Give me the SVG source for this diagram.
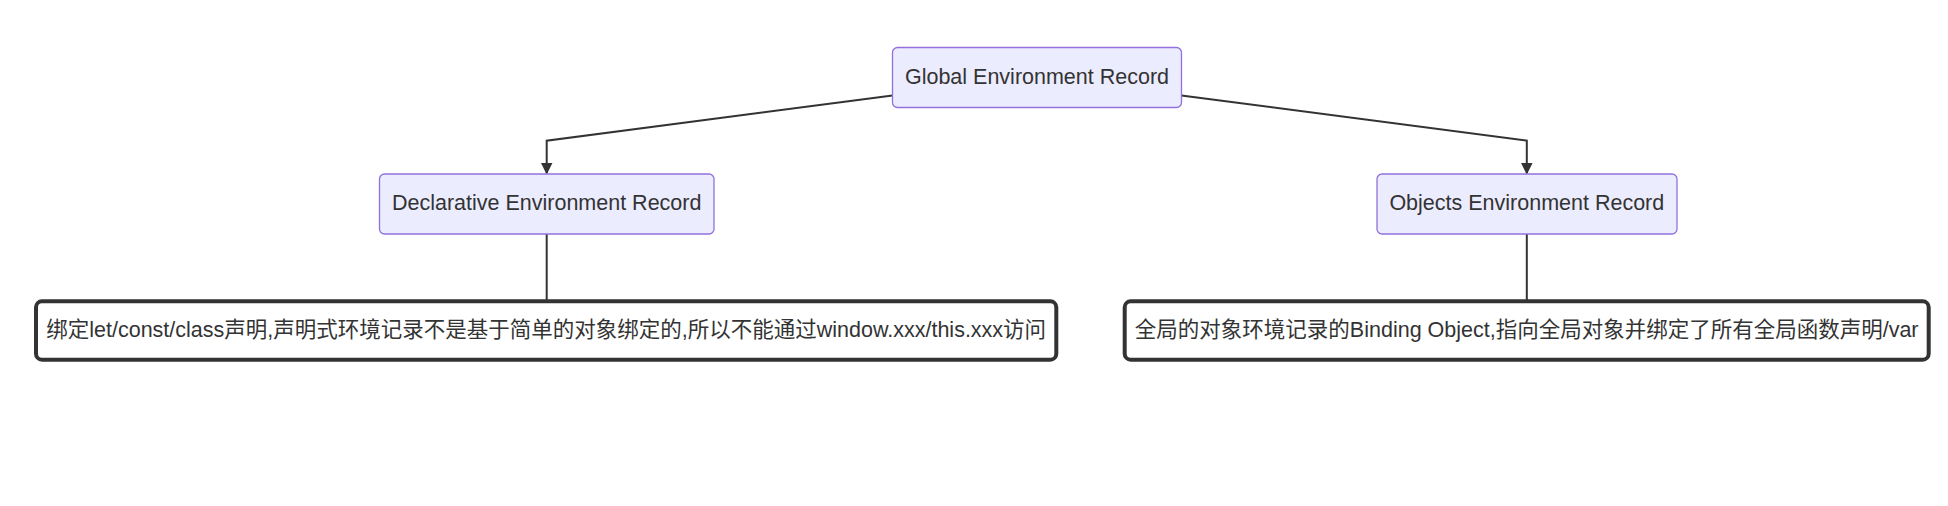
<svg xmlns="http://www.w3.org/2000/svg" width="1948" height="506" viewBox="0 0 1948 506">
<style>
.bg{fill:#ffffff}
.node rect{fill:#ECECFF;stroke:#9370DB;stroke-width:1.3}
.note rect{fill:#ffffff;stroke:#333333;stroke-width:4}
text{font-family:"Liberation Sans","Noto Sans CJK SC",Arial,sans-serif;font-size:21.5px;fill:#333333;text-anchor:middle;dominant-baseline:central}
.edge{fill:none;stroke:#333333;stroke-width:2}
</style>
<defs>
<marker id="arrow" viewBox="0 0 12 12" refX="11" refY="6" markerWidth="12" markerHeight="12" markerUnits="userSpaceOnUse" orient="auto">
<path d="M0,0 L12,6 L0,12 z" fill="#333333"/>
</marker>
</defs>
<rect class="bg" x="0" y="0" width="1948" height="506"/>
<g id="connectors">
<path class="edge" d="M892.5,95.5 L546.7,140.7 L546.7,173.5" marker-end="url(#arrow)"/>
<path class="edge" d="M1181.5,95.5 L1526.8,140.7 L1526.8,173.5" marker-end="url(#arrow)"/>
<path class="edge" d="M546.7,234 L546.7,300"/>
<path class="edge" d="M1526.8,234 L1526.8,300"/>
</g>
<g id="global" class="node">
<rect x="892.5" y="47.5" width="289" height="60" rx="5"/>
<text x="1037" y="76.5">Global Environment Record</text>
</g>
<g id="declarative" class="node">
<rect x="379.5" y="174" width="334.5" height="60" rx="5"/>
<text x="546.7" y="203">Declarative Environment Record</text>
</g>
<g id="objects" class="node">
<rect x="1377" y="174" width="300" height="60" rx="5"/>
<text x="1526.8" y="203">Objects Environment Record</text>
</g>
<g id="declarative-note" class="note">
<rect x="36" y="301.3" width="1020.3" height="58.4" rx="6"/>
<text x="546.2" y="329.5">绑定let/const/class声明,声明式环境记录不是基于简单的对象绑定的,所以不能通过window.xxx/this.xxx访问</text>
</g>
<g id="objects-note" class="note">
<rect x="1124.7" y="301.3" width="804" height="58.4" rx="6"/>
<text x="1526.7" y="329.5">全局的对象环境记录的Binding Object,指向全局对象并绑定了所有全局函数声明/var</text>
</g>
</svg>
